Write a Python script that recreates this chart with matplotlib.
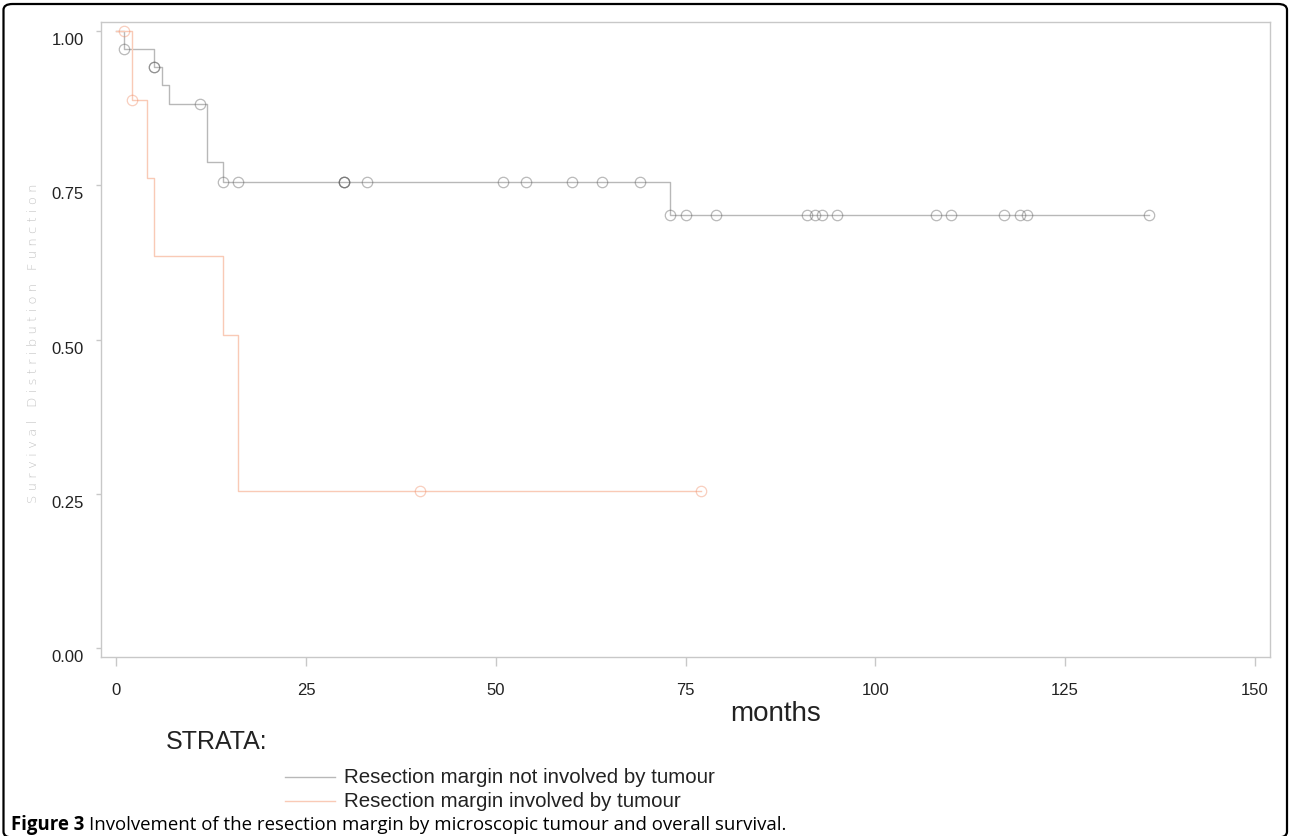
import numpy as np
import matplotlib
matplotlib.use("Agg")
import matplotlib.pyplot as plt
import matplotlib.transforms as mtransforms
from matplotlib.lines import Line2D
from matplotlib.patches import FancyBboxPatch

# survival curves
not_inv_times = [0, 1, 5, 6, 7, 12, 14, 73]
not_inv_surv = [1.0, 0.971, 0.942, 0.913, 0.882, 0.788, 0.756, 0.702]
not_inv_censored = [1, 5, 5, 11, 14, 16, 30, 30, 30, 33, 51, 54, 60, 64, 69,
                    73, 75, 79, 91, 92, 93, 95, 108, 110, 117, 119, 120, 136]
not_inv_end = 136

inv_times = [0, 2, 4, 5, 14, 16]
inv_surv = [1.0, 0.889, 0.762, 0.635, 0.508, 0.254]
inv_censored = [1, 2, 40, 77]
inv_end = 77

x_ticks = [0, 25, 50, 75, 100, 125, 150]
y_ticks = [0.0, 0.25, 0.5, 0.75, 1.0]
y_ticklabels = ["0.00", "0.25", "0.50", "0.75", "1.00"]

labels = ["Resection margin not involved by tumour",
          "Resection margin involved by tumour"]
line_colors = ["#b8b8b8", "#f9cab6"]
marker_colors = ["#5a5a5a", "#f08c66"]

W, H = 1290, 837
plt.rcParams['font.family'] = ['Liberation Sans', 'DejaVu Sans']


def fx(x):
    return x / W


def fy(y):
    return 1 - y / H


def surv_at(times, surv, t):
    idx = np.searchsorted(times, t, side='right') - 1
    return np.array(surv)[idx]


fig = plt.figure(figsize=(W / 100, H / 100), dpi=100)
ax = fig.add_axes([fx(101.3), fy(658.3), fx(1270) - fx(101.3), fy(23.3) - fy(658.3)])

curves = [(not_inv_times, not_inv_surv, not_inv_censored, not_inv_end),
          (inv_times, inv_surv, inv_censored, inv_end)]
for i, (t, s, c, end) in enumerate(curves):
    ax.step(np.append(t, end), np.append(s, s[-1]), where='post',
            color=line_colors[i], lw=1.0, zorder=2)
    cy = surv_at(t, s, np.array(c))
    ax.plot(c, cy, ls='none', marker='o', ms=7.5, mfc='none',
            mec=marker_colors[i], mew=0.9, alpha=0.42, zorder=3)

ax.set_xlim(-1.98, 152.0)
ax.set_ylim(-0.0152, 1.0146)
ax.set_xticks(x_ticks)
ax.set_xticklabels([str(v) for v in x_ticks])
ax.set_yticks(y_ticks)
ax.set_yticklabels(y_ticklabels)

for sp in ax.spines.values():
    sp.set_color('#c8c8c8')
    sp.set_linewidth(1.0)
ax.tick_params(axis='x', length=6.5, width=1.0, color='#c8c8c8', pad=11,
               labelsize=12, labelcolor='#222222')
ax.tick_params(axis='y', length=3.6, width=1.0, color='#c8c8c8', pad=9,
               labelsize=12, labelcolor='#222222')

# SAS style: y labels sit a bit below their ticks
offset = mtransforms.ScaledTranslation(0, -7 / 100, fig.dpi_scale_trans)
for lab in ax.get_yticklabels():
    lab.set_transform(lab.get_transform() + offset)

# y axis title, spaced thin letters
fig.text(fx(33), fy(343), " ".join("Survival Distribution Function"),
         rotation=90, ha='center', va='center', fontsize=9.5,
         color='#c4c4c4', family='DejaVu Sans', fontweight='light')

fig.text(fx(775.5), fy(714), "months", ha='center', va='center',
         fontsize=20, color='#222222')
fig.text(fx(166), fy(742), "STRATA:", ha='left', va='center',
         fontsize=18, color='#222222')

leg_y = [778, 802]
for i in range(2):
    fig.add_artist(Line2D([fx(285), fx(335)], [fy(leg_y[i])] * 2,
                          color=line_colors[i], lw=1.0))
    fig.text(fx(344), fy(leg_y[i]), labels[i], ha='left', va='center',
             fontsize=14.8, color='#222222')

cap_y = 825
cap1 = fig.text(fx(11), fy(cap_y), "Figure 3", ha='left', va='center',
                fontsize=13.4, fontweight='bold', family='Open Sans', color='black')
fig.canvas.draw()
bb = cap1.get_window_extent()
fig.text(bb.x1 / W + 5 / W, fy(cap_y),
         "Involvement of the resection margin by microscopic tumour and overall survival.",
         ha='left', va='center', fontsize=13.4, family='Open Sans', color='black')

# rounded frame around the figure panel
frame = FancyBboxPatch((fx(3.5), fy(838.5)), fx(1287) - fx(3.5), fy(5) - fy(838.5),
                       boxstyle="round,pad=0,rounding_size=0.007",
                       transform=fig.transFigure, fill=False,
                       edgecolor='black', lw=1.6, clip_on=False)
fig.add_artist(frame)

fig.savefig("out.png", dpi=100)
